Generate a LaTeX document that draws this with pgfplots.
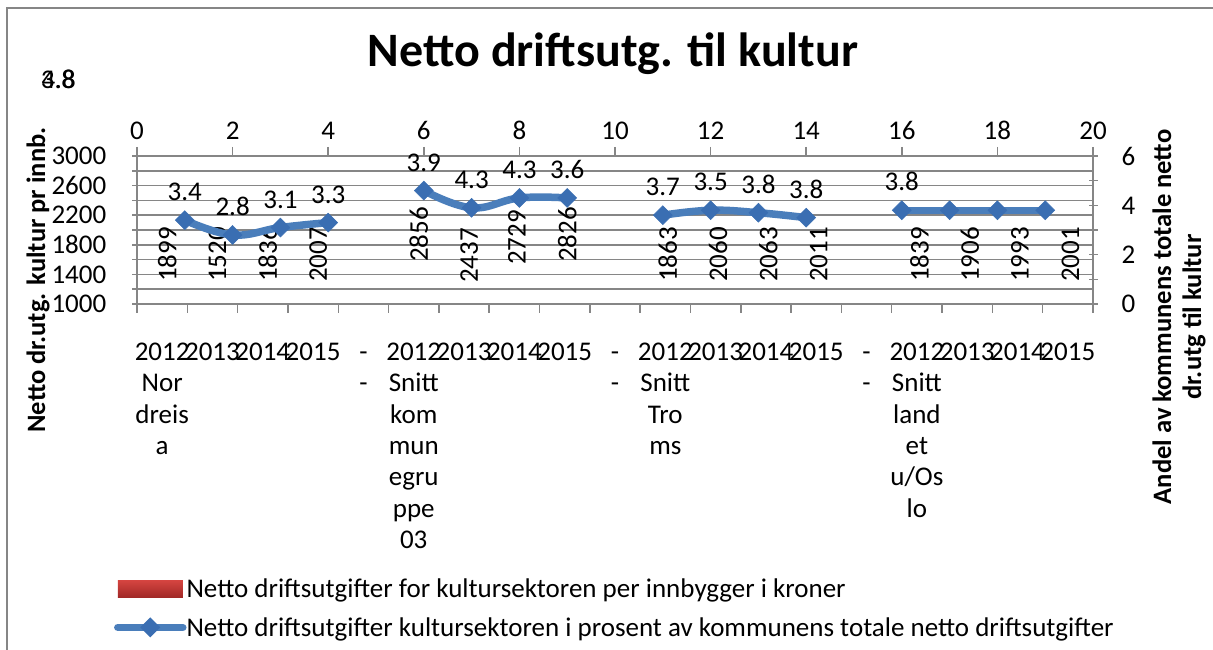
\documentclass[border=0pt]{standalone}
\usepackage{pgfplots}
\pgfplotsset{compat=1.18}
\usepackage{fontspec}
\setmainfont{Carlito}
\definecolor{axgray}{RGB}{134,134,134}
\definecolor{lineblue}{RGB}{74,126,187}
\definecolor{markblue}{RGB}{58,110,178}
\definecolor{redtop}{RGB}{212,68,64}
\definecolor{redbot}{RGB}{160,40,38}
\newcommand{\fs}{\fontsize{27bp}{31.3bp}\selectfont}
\begin{document}
\begin{tikzpicture}
\useasboundingbox (0,0) rectangle (1213bp,650bp);
\fill[white] (0,0) rectangle (1213bp,650bp);
\draw[axgray, line width=2.5bp] (7bp,-5bp) -- (7bp,642bp) -- (1220bp,642bp);

\begin{axis}[
  at={(137bp,346bp)}, anchor=south west,
  width=956bp, height=148bp, scale only axis,
  xmin=-0.5, xmax=18.5, ymin=1000, ymax=3000,
  axis x line*=bottom, axis y line*=left,
  axis line style={axgray, line width=1.5bp},
  xtick={0,...,18},
  xticklabels={{\strut 2012\\Nor\\dreis\\a},{\strut 2013},{\strut 2014},{\strut 2015},{\strut -\\-},{\strut 2012\\Snitt\\kom\\mun\\egru\\ppe\\03},{\strut 2013},{\strut 2014},{\strut 2015},{\strut -\\-},{\strut 2012\\Snitt\\Tro\\ms},{\strut 2013},{\strut 2014},{\strut 2015},{\strut -\\-},{\strut 2012\\Snitt\\land\\et\\u/Os\\lo},{\strut 2013},{\strut 2014},{\strut 2015}},
  major x tick style={draw=none},
  minor xtick={-0.5,0.5,...,18.5},
  minor x tick style={axgray, line width=1.5bp, yshift=-4.5bp},
  tick align=center, major tick length=9bp, minor tick length=9bp,
  ytick={1000,1400,...,3000},
  minor ytick={1200,1600,...,2800},
  ymajorgrids, yminorgrids,
  major grid style={axgray, line width=1.5bp},
  minor grid style={axgray, line width=1.5bp},
  y tick style={axgray, line width=1.5bp},
  tick label style={font=\fs, text=black},
  xticklabel style={align=center, anchor=north, inner sep=0pt, yshift=-30bp},
  yticklabel style={anchor=east, inner sep=0pt, xshift=-26bp},
  /pgf/number format/assume math mode=true,
  /pgf/number format/1000 sep={},
]
\addplot[draw=none, mark=none, nodes near coords, point meta=explicit symbolic,
  nodes near coords style={rotate=90, anchor=west, inner sep=0pt, font=\fs, text=black}]
  coordinates {(0.1,1297)[1899] (1.1,1297)[1520] (2.1,1297)[1836] (3.1,1297)[2007]
  (5.1,1568)[2856] (6.1,1284)[2437] (7.05,1527)[2729] (8.05,1568)[2826]
  (10.05,1297)[1863] (11.05,1297)[2060] (12.05,1297)[2063] (13.05,1297)[2011]
  (15.05,1297)[1839] (16.05,1297)[1906] (17.05,1297)[1993] (18.05,1297)[2001]};
\end{axis}

\begin{axis}[
  at={(137bp,346bp)}, anchor=south west,
  width=956bp, height=148bp, scale only axis,
  xmin=0, xmax=20, ymin=0, ymax=6,
  axis x line*=top, axis y line*=right,
  axis line style={axgray, line width=1.5bp},
  xtick={0,2,...,20}, ytick={0,2,4,6}, minor ytick={1,3,5},
  tick align=center, major tick length=9bp, minor tick length=9bp,
  x tick style={axgray, line width=1.5bp, yshift=4.5bp},
  y tick style={axgray, line width=1.5bp},
  minor y tick style={axgray, line width=1.5bp},
  tick label style={font=\fs, text=black},
  xticklabel style={anchor=south, inner sep=0pt, yshift=12bp},
  yticklabel style={anchor=west, inner sep=0pt, xshift=24bp},
  /pgf/number format/assume math mode=true,
  legend style={at={(axis description cs:-0.024,-1.845)}, anchor=north west,
    draw=none, fill=none, inner sep=0pt, outer sep=0pt, row sep=14bp,
    font=\fs, /tikz/every odd column/.append style={column sep=-2bp}},
  legend cell align=left,
]
\addlegendimage{draw=none, mark=none, legend image code/.code={\path[top color=redtop, bottom color=redbot, draw=none] (-32.5bp,-8.5bp) rectangle (32.5bp,8.5bp);}}
\addlegendentry{Netto driftsutgifter for kultursektoren per innbygger i kroner}
\addlegendimage{draw=none, mark=none, legend image code/.code={\draw[lineblue, line width=7.5bp, line cap=round] (-32.5bp,0bp) -- (32.5bp,0bp); \fill[markblue] (0bp,10bp) -- (10bp,0bp) -- (0bp,-10bp) -- (-10bp,0bp) -- cycle;}}
\addlegendentry{Netto driftsutgifter kultursektoren i prosent av kommunens totale netto driftsutgifter}

\addplot[forget plot, smooth, tension=0.7, lineblue, line width=7.5bp, mark=square*, mark size=6.7bp,
  mark options={rotate=45, fill=markblue, draw=markblue, line width=0.5bp},
  nodes near coords, point meta=explicit symbolic,
  nodes near coords style={anchor=south, inner sep=0pt, yshift=19bp, font=\fs, text=black}]
  coordinates {(1,3.4)[3.4] (2,2.8)[2.8] (3,3.1)[3.1] (4,3.3)[3.3]};
\addplot[forget plot, smooth, tension=0.7, lineblue, line width=7.5bp, mark=square*, mark size=6.7bp,
  mark options={rotate=45, fill=markblue, draw=markblue, line width=0.5bp},
  nodes near coords, point meta=explicit symbolic,
  nodes near coords style={anchor=south, inner sep=0pt, yshift=19bp, font=\fs, text=black}]
  coordinates {(6,4.6)[3.9] (7,3.9)[4.3] (8,4.3)[4.3] (9,4.3)[3.6]};
\addplot[forget plot, smooth, tension=0.7, lineblue, line width=7.5bp, mark=square*, mark size=6.7bp,
  mark options={rotate=45, fill=markblue, draw=markblue, line width=0.5bp},
  nodes near coords, point meta=explicit symbolic,
  nodes near coords style={anchor=south, inner sep=0pt, yshift=19bp, font=\fs, text=black}]
  coordinates {(11,3.6)[3.7] (12,3.8)[3.5] (13,3.7)[3.8] (14,3.5)[3.8]};
\addplot[forget plot, smooth, tension=0.7, lineblue, line width=7.5bp, mark=square*, mark size=6.7bp,
  mark options={rotate=45, fill=markblue, draw=markblue, line width=0.5bp}]
  coordinates {(16,3.8) (17,3.8) (18,3.8) (19,3.8)};
\addplot[forget plot, draw=none, mark=none, nodes near coords, point meta=explicit symbolic,
  nodes near coords style={anchor=south, inner sep=0pt, yshift=19bp, font=\fs, text=black}]
  coordinates {(16,3.8)[3.8]};
\end{axis}

\node[font=\fs] at (58bp,571bp) {3.8};
\node[font=\fs] at (58.6bp,571bp) {4.8};
\node[font=\fontsize{48bp}{54bp}\selectfont\bfseries, anchor=base] at (613bp,583bp) {Netto driftsutg. til kultur};
\node[rotate=90, font=\fontsize{26.5bp}{30bp}\selectfont\bfseries] at (38bp,370bp) {Netto dr.utg. kultur pr innb.};
\node[rotate=90, align=center, font=\fontsize{26.6bp}{30bp}\selectfont\bfseries] at (1179bp,333bp) {Andel av kommunens totale netto\\dr.utg til kultur};
\end{tikzpicture}
\end{document}
